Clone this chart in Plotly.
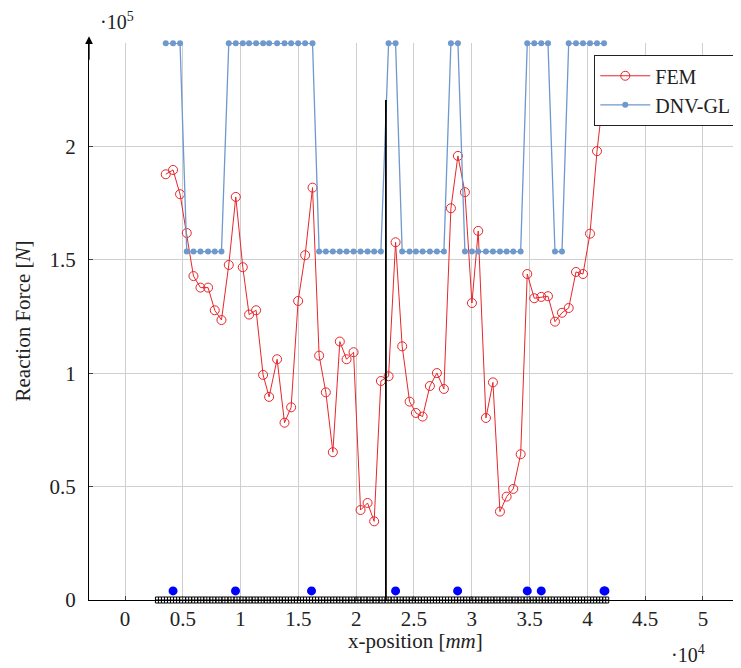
import numpy as np
import plotly.graph_objects as go

# ---------------- data ----------------
x_pos_mm = [3523, 4155, 4761, 5341, 5921, 6527, 7185, 7765, 8345, 8977,
            9583, 10189, 10734, 11340, 11946, 12465, 13158, 13798, 14370, 14976,
            15582, 16222, 16794, 17374, 17980, 18585, 19166, 19771, 20377, 20983,
            21555, 22135, 22801, 23407, 23978, 24619, 25165, 25745, 26376, 26982,
            27588, 28194, 28800, 29406, 30012, 30557, 31224, 31830, 32436, 33016,
            33587, 34228, 34799, 35405, 36011, 36591, 37197, 37803, 38383, 39015,
            39621, 40227, 40833, 41439]

fem_force = [187800, 189700, 179000, 161900, 142900, 137800, 137800, 127800, 123500, 147800,
             177800, 146800, 125900, 127800, 99300, 89600, 106200, 78200, 85000, 131900,
             152100, 181900, 107800, 91600, 65200, 114000, 106200, 109300, 39700, 42800,
             34700, 96600, 98700, 157800, 111900, 87500, 82500, 80900, 94400, 100100,
             93100, 172800, 195900, 179900, 131000, 162800, 80300, 96000, 39000, 45600,
             49000, 64300, 143800, 133100, 133700, 134000, 122800, 126700, 128800, 144700,
             143800, 161600, 198000, 225000]

dnv_high = 245600
dnv_low = 153700
dnv_force = ([dnv_high] * 3 + [dnv_low] * 6 + [dnv_high] * 13 + [dnv_low] * 10 +
             [dnv_high] * 2 + [dnv_low] * 7 + [dnv_high] * 2 + [dnv_low] * 9 +
             [dnv_high] * 4 + [dnv_low] * 2 + [dnv_high] * 6)

support_x = [4155, 9557, 16136, 23407, 28774, 34800, 36011, 41440, 41520]
support_y = [4000] * len(support_x)

marker_line_x = 22570
marker_line_top = 220600

beam_start = 2891
beam_end = 41586
beam_cells = 75

x_tick_vals = [0, 5000, 10000, 15000, 20000, 25000, 30000, 35000, 40000, 45000, 50000]
x_tick_text = ["0", "0.5", "1", "1.5", "2", "2.5", "3", "3.5", "4", "4.5", "5"]
y_tick_vals = [0, 50000, 100000, 150000, 200000]
y_tick_text = ["0", "0.5", "1", "1.5", "2"]

# ---------------- figure ----------------
FONT = "Liberation Serif, Times New Roman, DejaVu Serif, serif"
RED = "#e8262a"
BLUE = "#6f98cc"
TXT = "#222222"

fig = go.Figure()

# beam (decorative hatched strip along the x axis)
beam_x = np.linspace(beam_start, beam_end, beam_cells)
fig.add_trace(go.Scatter(
    x=beam_x, y=[0] * beam_cells, mode="markers",
    marker=dict(symbol="square-cross-open", size=6, color="black",
                line=dict(width=1, color="black")),
    showlegend=False, cliponaxis=False, hoverinfo="skip"))

fig.add_trace(go.Scatter(
    x=x_pos_mm, y=fem_force, mode="lines+markers", name="FEM",
    line=dict(color=RED, width=1.0),
    marker=dict(symbol="circle-open", size=9, color=RED, line=dict(width=1.0, color=RED)),
    cliponaxis=False))

fig.add_trace(go.Scatter(
    x=x_pos_mm, y=dnv_force, mode="lines+markers", name="DNV-GL",
    line=dict(color=BLUE, width=1.3),
    marker=dict(symbol="circle", size=6, color=BLUE),
    cliponaxis=False))

fig.add_trace(go.Scatter(
    x=support_x, y=support_y, mode="markers",
    marker=dict(symbol="circle", size=9, color="#0000ff"),
    showlegend=False, cliponaxis=False))

fig.add_shape(type="line", x0=marker_line_x, x1=marker_line_x, y0=0, y1=marker_line_top,
              xref="x", yref="y", line=dict(color="black", width=1.8))

# y-axis arrow head
fig.add_annotation(xref="paper", yref="paper", x=0, y=1.012, ax=0, ay=25,
                   axref="pixel", ayref="pixel", text="", showarrow=True,
                   arrowhead=2, arrowsize=1.2, arrowwidth=1.3, arrowcolor="black")

# axis titles and multipliers
fig.add_annotation(xref="paper", yref="paper", x=0.5, y=0, yshift=-41,
                   text="x-position [<i>mm</i>]", showarrow=False,
                   font=dict(family=FONT, size=21, color=TXT), yanchor="middle")
fig.add_annotation(xref="paper", yref="paper", x=0, xshift=-67, y=0.5,
                   text="Reaction Force [<i>N</i>]", showarrow=False, textangle=-90,
                   font=dict(family=FONT, size=21, color=TXT), xanchor="center")
fig.add_annotation(xref="paper", yref="paper", x=0, xshift=28, y=1, yshift=22,
                   text="·10<sup>5</sup>", showarrow=False, xanchor="center", yanchor="middle",
                   font=dict(family=FONT, size=20, color=TXT))
fig.add_annotation(xref="paper", yref="paper", x=0.919, y=0, yshift=-54,
                   text="·10<sup>4</sup>", showarrow=False, xanchor="center", yanchor="middle",
                   font=dict(family=FONT, size=20, color=TXT))

fig.update_xaxes(
    range=[-3116, 53290], tickvals=x_tick_vals, ticktext=x_tick_text,
    showgrid=True, gridcolor="#cfcfcf", gridwidth=1, zeroline=False,
    showline=True, linecolor="black", linewidth=1.3,
    ticks="inside", ticklen=4, tickcolor="#444", ticklabelstandoff=0,
    tickfont=dict(family=FONT, size=21, color=TXT))
fig.update_yaxes(
    range=[0, 245700], tickvals=y_tick_vals, ticktext=y_tick_text,
    showgrid=True, gridcolor="#cfcfcf", gridwidth=1, zeroline=False,
    showline=True, linecolor="black", linewidth=1.3,
    ticks="inside", ticklen=4, tickcolor="#444", ticklabelstandoff=8,
    tickfont=dict(family=FONT, size=21, color=TXT))

# page has an 8px body margin, so the figure is 8px smaller and margins shifted
fig.update_layout(
    width=733, height=660,
    margin=dict(l=81, r=0, t=35, b=68),
    plot_bgcolor="white", paper_bgcolor="white",
    font=dict(family=FONT, size=21, color=TXT),
    legend=dict(x=0.7745, y=0.9785, xanchor="left", yanchor="top",
                bgcolor="white", bordercolor="#222", borderwidth=1.3,
                font=dict(family=FONT, size=20, color=TXT),
                tracegroupgap=0, itemwidth=50),
    showlegend=True,
)

fig.write_html("out.html")
